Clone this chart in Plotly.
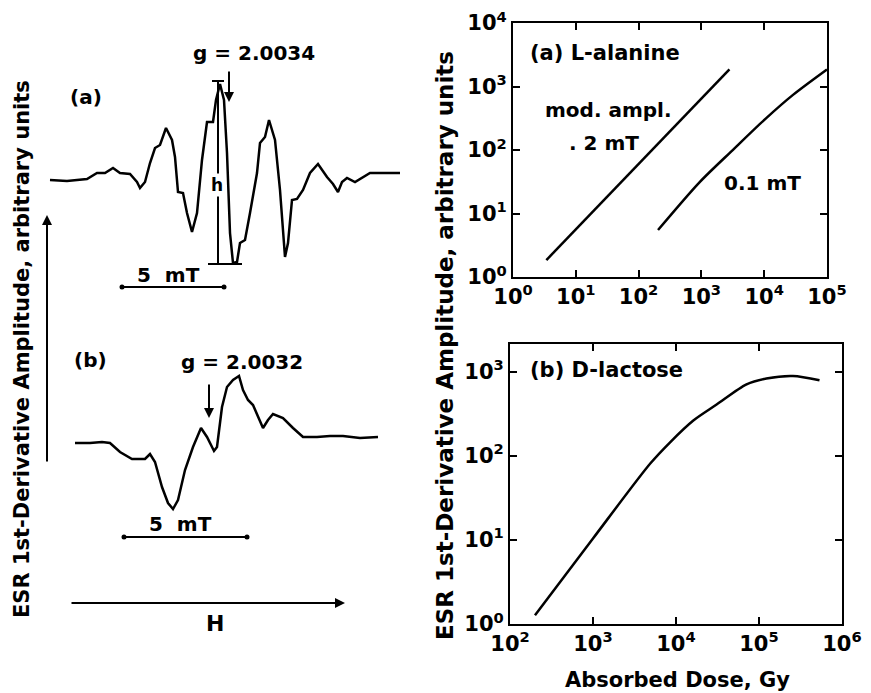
import plotly.graph_objects as go

# ---------------- data ----------------
# Left: ESR spectra (field position, amplitude) (arbitrary units, page-like coords)
spec_a_field = [50, 67, 87, 97, 105, 113, 120, 130, 137, 140, 145, 150, 155, 160, 166, 172, 175, 178, 183, 187,
                192, 197, 202, 207, 213, 216, 220, 224, 227, 230, 233, 237, 240, 245, 250, 257, 260, 265, 269, 275,
                280, 285, 288, 292, 297, 303, 310, 318, 327, 333, 338, 342, 347, 355, 370, 387, 400]
spec_a_amp = [180, 181, 179, 173, 173, 168, 173, 174, 182, 188, 182, 163, 148, 145, 128, 140, 157, 192, 193, 213,
              232, 213, 160, 122, 122, 100, 84, 100, 153, 233, 263, 262, 243, 240, 213, 173, 143, 137, 120, 140,
              190, 257, 243, 200, 199, 190, 173, 164, 177, 184, 192, 182, 178, 182, 173, 173, 173]

spec_b_field = [75, 90, 102, 110, 120, 132, 145, 150, 155, 162, 168, 173, 178, 185, 193, 201, 207, 214, 217, 222,
                227, 233, 239, 243, 248, 253, 263, 268, 273, 283, 293, 303, 317, 330, 343, 360, 378]
spec_b_amp = [443, 443, 442, 443, 452, 459, 459, 454, 462, 487, 503, 509, 500, 470, 447, 428, 437, 451, 447, 407,
              387, 380, 376, 390, 400, 405, 428, 420, 414, 418, 428, 437, 437, 436, 436, 438, 437]

# scale bars / markers on the spectra
bar_a_x = [122, 224]
bar_a_y = [287, 287]
bar_b_x = [124, 247]
bar_b_y = [537, 537]
h_line_x = [218, 218]
h_line_y = [81, 264]
h_top_x = [212, 224]
h_top_y = [81, 81]
h_bot_x = [208, 242]
h_bot_y = [264, 264]

# Right top: L-alanine, dose (Gy) vs amplitude
ala_02_dose = [3.4, 2800]
ala_02_amp = [1.85, 1870]
ala_01_dose = [204, 933, 3160, 10700, 28800, 100000]
ala_01_amp = [5.5, 31, 100, 316, 740, 1860]

# Right bottom: D-lactose
lac_dose = [200, 1000, 4900, 8500, 16200, 30900, 70800, 123000, 257000, 537000]
lac_amp = [1.27, 10.4, 81, 145, 263, 407, 708, 832, 891, 794]

xt_a = [1, 10, 100, 1000, 10000, 100000]
xt_a_lbl = ["10<sup>0</sup>", "10<sup>1</sup>", "10<sup>2</sup>", "10<sup>3</sup>", "10<sup>4</sup>", "10<sup>5</sup>"]
yt_a = [1, 10, 100, 1000, 10000]
yt_a_lbl = ["10<sup>0</sup>", "10<sup>1</sup>", "10<sup>2</sup>", "10<sup>3</sup>", "10<sup>4</sup>"]
xt_b = [100, 1000, 10000, 100000, 1000000]
xt_b_lbl = ["10<sup>2</sup>", "10<sup>3</sup>", "10<sup>4</sup>", "10<sup>5</sup>", "10<sup>6</sup>"]
yt_b = [1, 10, 100, 1000]
yt_b_lbl = ["10<sup>0</sup>", "10<sup>1</sup>", "10<sup>2</sup>", "10<sup>3</sup>"]

YLABEL = "ESR 1st-Derivative Amplitude, arbitrary units"
FONT = "DejaVu Sans"
PAGE_W, PAGE_H = 871, 693
OFF = 8  # default body margin of the html page
W, H = PAGE_W - OFF, PAGE_H - OFF


def px_x(p):
    return (p - OFF) / W


def px_y(p):
    return 1 - (p - OFF) / H


def fnt(size):
    return dict(size=size, color="black", family=FONT, weight="bold")


fig = go.Figure()
line = dict(color="black", width=2.5)

# right plots
fig.add_trace(go.Scatter(x=ala_02_dose, y=ala_02_amp, mode="lines", line=line, xaxis="x", yaxis="y"))
fig.add_trace(go.Scatter(x=ala_01_dose, y=ala_01_amp, mode="lines",
                         line=dict(color="black", width=2.5, shape="spline", smoothing=0.8), xaxis="x", yaxis="y"))
fig.add_trace(go.Scatter(x=lac_dose, y=lac_amp, mode="lines",
                         line=dict(color="black", width=2.5, shape="spline", smoothing=0.8), xaxis="x2", yaxis="y2"))

# left spectra
fig.add_trace(go.Scatter(x=spec_a_field, y=spec_a_amp, mode="lines", line=line, xaxis="x3", yaxis="y3"))
fig.add_trace(go.Scatter(x=spec_b_field, y=spec_b_amp, mode="lines", line=line, xaxis="x3", yaxis="y3"))
for bx, by in [(bar_a_x, bar_a_y), (bar_b_x, bar_b_y)]:
    fig.add_trace(go.Scatter(x=bx, y=by, mode="lines+markers", line=dict(color="black", width=2),
                             marker=dict(size=5, color="black"), xaxis="x3", yaxis="y3"))
for bx, by in [(h_line_x, h_line_y), (h_top_x, h_top_y), (h_bot_x, h_bot_y)]:
    fig.add_trace(go.Scatter(x=bx, y=by, mode="lines", line=dict(color="black", width=2), xaxis="x3", yaxis="y3"))

axis_common = dict(type="log", showline=True, linecolor="black", linewidth=2, mirror="ticks",
                   ticks="inside", ticklen=7, tickwidth=2, tickcolor="black", showgrid=False, zeroline=False,
                   tickfont=fnt(21), automargin=False, ticklabeloverflow="allow")

fig.update_layout(
    width=W, height=H, margin=dict(l=0, r=0, t=0, b=0, autoexpand=False),
    paper_bgcolor="white", plot_bgcolor="white", showlegend=False,
    font=dict(family=FONT, color="black"),
    xaxis=dict(domain=[px_x(513), px_x(827)], range=[0, 5.001], tickvals=xt_a, ticktext=xt_a_lbl, anchor="y", **axis_common),
    yaxis=dict(domain=[px_y(277), px_y(23)], range=[0, 4.001], tickvals=yt_a, ticktext=yt_a_lbl, anchor="x", **axis_common),
    xaxis2=dict(domain=[px_x(510), px_x(842)], range=[2, 6.001], tickvals=xt_b, ticktext=xt_b_lbl, anchor="y2", **axis_common),
    yaxis2=dict(domain=[px_y(624), px_y(344)], range=[0, 3.33], tickvals=yt_b, ticktext=yt_b_lbl, anchor="x2", **axis_common),
    xaxis3=dict(domain=[0, px_x(400)], range=[OFF, 400], visible=False, anchor="y3"),
    yaxis3=dict(domain=[0, 1], range=[PAGE_H, OFF], visible=False, anchor="x3"),
)

txt = fnt(20)
ctr = dict(xanchor="center", yanchor="middle", showarrow=False)

# right side texts
fig.add_annotation(text="(a) L-alanine", x=px_x(528), y=px_y(53), xref="paper", yref="paper",
                   xanchor="left", yanchor="middle", showarrow=False, font=fnt(21))
fig.add_annotation(text="mod. ampl.", x=px_x(608), y=px_y(110), xref="paper", yref="paper", font=txt, **ctr)
fig.add_annotation(text=". 2 mT", x=px_x(604), y=px_y(143), xref="paper", yref="paper", font=txt, **ctr)
fig.add_annotation(text="0.1 mT", x=px_x(762), y=px_y(183), xref="paper", yref="paper", font=txt, **ctr)
fig.add_annotation(text="(b) D-lactose", x=px_x(528), y=px_y(370), xref="paper", yref="paper",
                   xanchor="left", yanchor="middle", showarrow=False, font=fnt(21))
fig.add_annotation(text="Absorbed Dose, Gy", x=px_x(677), y=px_y(680), xref="paper", yref="paper",
                   font=fnt(21), **ctr)
fig.add_annotation(text=YLABEL, x=px_x(445), y=px_y(345), xref="paper", yref="paper", textangle=-90,
                   font=fnt(23), **ctr)

# left side texts
fig.add_annotation(text=YLABEL, x=px_x(22), y=px_y(349), xref="paper", yref="paper", textangle=-90,
                   font=fnt(21), **ctr)
fig.add_annotation(text="(a)", x=86, y=97, xref="x3", yref="y3", font=txt, **ctr)
fig.add_annotation(text="g = 2.0034", x=254, y=53, xref="x3", yref="y3", font=txt, **ctr)
fig.add_annotation(text="h", x=217, y=185, xref="x3", yref="y3", font=fnt(17), bgcolor="white", **ctr)
fig.add_annotation(text="5  mT", x=168, y=275, xref="x3", yref="y3", font=txt, **ctr)
fig.add_annotation(text="(b)", x=90, y=360, xref="x3", yref="y3", font=txt, **ctr)
fig.add_annotation(text="g = 2.0032", x=242, y=362, xref="x3", yref="y3", font=txt, **ctr)
fig.add_annotation(text="5  mT", x=180, y=524, xref="x3", yref="y3", font=txt, **ctr)
fig.add_annotation(text="H", x=215, y=623, xref="x3", yref="y3", font=fnt(22), **ctr)

arrow = dict(showarrow=True, arrowhead=2, arrowsize=1, arrowwidth=2, arrowcolor="black",
             xref="x3", yref="y3", axref="x3", ayref="y3", text="")
fig.add_annotation(x=229, y=102, ax=229, ay=70, **arrow)
fig.add_annotation(x=209, y=418, ax=209, ay=383, **arrow)
fig.add_annotation(x=47, y=215, ax=47, ay=463, **arrow)
fig.add_annotation(x=345, y=603, ax=70, ay=603, **arrow)

fig.write_html("out.html")
